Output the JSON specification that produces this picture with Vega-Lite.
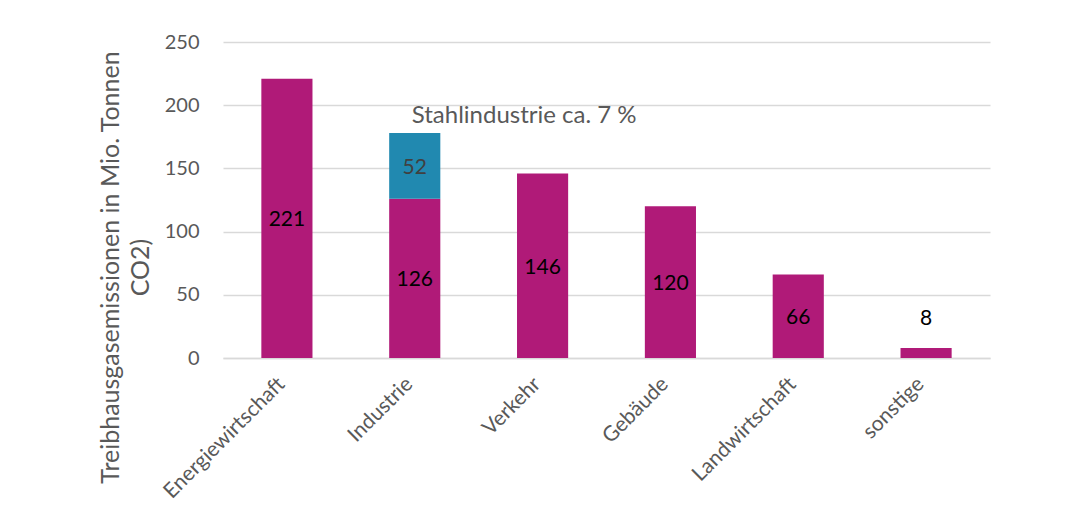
{
  "$schema": "https://vega.github.io/schema/vega-lite/v6.json",
  "autosize": {"type": "none"},
  "width": 767,
  "height": 316,
  "padding": {"left": 223, "top": 42, "right": 91, "bottom": 171},
  "background": "white",
  "config": {
    "view": {"stroke": null},
    "font": "Lato"
  },
  "data": {
    "values": [
      {"sektor": "Energiewirtschaft", "teil": "Sektor", "wert": 221},
      {"sektor": "Industrie", "teil": "Sektor", "wert": 126},
      {"sektor": "Industrie", "teil": "Stahlindustrie", "wert": 52},
      {"sektor": "Verkehr", "teil": "Sektor", "wert": 146},
      {"sektor": "Gebäude", "teil": "Sektor", "wert": 120},
      {"sektor": "Landwirtschaft", "teil": "Sektor", "wert": 66},
      {"sektor": "sonstige", "teil": "Sektor", "wert": 8}
    ]
  },
  "transform": [
    {"calculate": "datum.teil === 'Sektor' ? 0 : 1", "as": "ord"},
    {"stack": "wert", "groupby": ["sektor"], "sort": [{"field": "ord"}], "as": ["w0", "w1"]},
    {"calculate": "(datum.w0 + datum.w1) / 2", "as": "mitte"}
  ],
  "layer": [
    {
      "mark": {"type": "bar"},
      "encoding": {
        "x": {
          "field": "sektor", "type": "nominal", "sort": null,
          "scale": {"paddingInner": 0.6, "paddingOuter": 0.3},
          "axis": {
            "title": null, "labelAngle": -45, "labelFontSize": 21, "labelColor": "#595959",
            "ticks": false, "domainColor": "#d9d9d9", "domainWidth": 1.5, "labelPadding": 15,
            "labelOffset": -13
          }
        },
        "y": {
          "field": "w1", "type": "quantitative",
          "scale": {"domain": [0, 250], "nice": false},
          "axis": {
            "values": [0, 50, 100, 150, 200, 250],
            "title": ["Treibhausgasemissionen in Mio. Tonnen", "CO2)"],
            "titleFontSize": 25, "titleFontWeight": "normal", "titleColor": "#595959",
            "titleLineHeight": 30, "titleAngle": -90, "titleAlign": "center", "titleBaseline": "bottom",
            "titleX": -100, "titleY": 225,
            "labelFontSize": 20, "labelColor": "#595959", "labelPadding": 24,
            "ticks": false, "domain": false, "gridColor": "#d9d9d9", "gridWidth": 1.5
          }
        },
        "y2": {"field": "w0"},
        "color": {
          "field": "teil", "type": "nominal",
          "scale": {"domain": ["Sektor", "Stahlindustrie"], "range": ["#b01a78", "#2189b0"]},
          "legend": null
        }
      }
    },
    {
      "transform": [{"filter": "datum.wert >= 20"}],
      "mark": {"type": "text", "fontSize": 21, "baseline": "middle", "align": "center", "dy": 2},
      "encoding": {
        "x": {"field": "sektor", "type": "nominal", "sort": null},
        "y": {"field": "mitte", "type": "quantitative"},
        "text": {"field": "wert", "type": "quantitative"},
        "color": {
          "condition": {"test": "datum.teil === 'Stahlindustrie'", "value": "#404040"},
          "value": "#000000"
        }
      }
    },
    {
      "transform": [{"filter": "datum.wert < 20"}],
      "mark": {"type": "text", "fontSize": 21, "baseline": "middle", "align": "center", "dy": -29, "color": "#000000"},
      "encoding": {
        "x": {"field": "sektor", "type": "nominal", "sort": null},
        "y": {"field": "w1", "type": "quantitative"},
        "text": {"field": "wert", "type": "quantitative"}
      }
    },
    {
      "transform": [{"filter": "datum.teil === 'Stahlindustrie'"}],
      "mark": {"type": "text", "fontSize": 24, "baseline": "middle", "align": "left", "dx": -3, "dy": -17, "color": "#595959"},
      "encoding": {
        "x": {"field": "sektor", "type": "nominal", "sort": null},
        "y": {"field": "w1", "type": "quantitative"},
        "text": {"value": "Stahlindustrie ca. 7 %"}
      }
    }
  ]
}
